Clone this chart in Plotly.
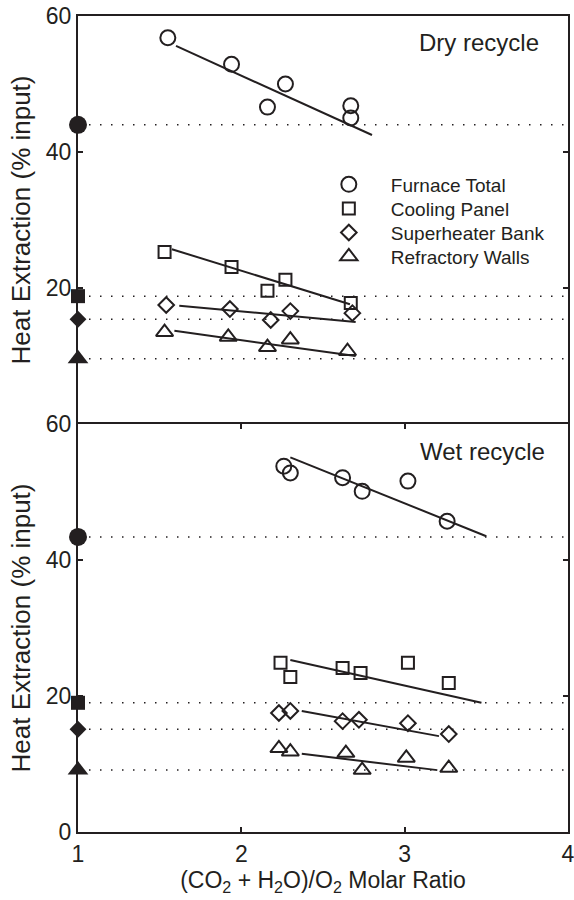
import plotly.graph_objects as go
from plotly.subplots import make_subplots

# series names and symbols
names = ["Furnace Total", "Cooling Panel", "Superheater Bank", "Refractory Walls"]
open_symbols = ["circle-open", "square-open", "diamond-open", "triangle-up-open"]
solid_symbols = ["circle", "square", "diamond", "triangle-up"]
open_sizes = [15, 12, 12, 15]
solid_sizes = [18, 14, 13, 18]

# Dry recycle measurements
dry_x = [
    [1.55, 1.94, 2.16, 2.27, 2.67, 2.67],
    [1.53, 1.94, 2.16, 2.27, 2.67],
    [1.54, 1.93, 2.18, 2.30, 2.68],
    [1.53, 1.92, 2.16, 2.30, 2.65],
]
dry_y = [
    [56.8, 52.9, 46.6, 50.0, 46.8, 45.0],
    [25.3, 23.1, 19.6, 21.2, 17.8],
    [17.5, 16.9, 15.3, 16.6, 16.3],
    [13.5, 12.8, 11.3, 12.4, 10.7],
]
dry_fit_x = [[1.60, 2.80], [1.575, 2.665], [1.62, 2.70], [1.59, 2.70]]
dry_fit_y = [[55.6, 42.5], [25.7, 17.6], [17.4, 15.0], [13.7, 10.0]]
dry_base = [44.0, 18.8, 15.4, 9.6]

# Wet recycle measurements
wet_x = [
    [2.26, 2.30, 2.62, 2.74, 3.02, 3.26],
    [2.24, 2.30, 2.62, 2.73, 3.02, 3.27],
    [2.23, 2.30, 2.62, 2.72, 3.02, 3.27],
    [2.23, 2.30, 2.64, 2.74, 3.01, 3.27],
]
wet_y = [
    [53.8, 52.8, 52.1, 50.1, 51.6, 45.7],
    [24.9, 22.8, 24.1, 23.4, 24.9, 21.9],
    [17.5, 17.8, 16.3, 16.5, 16.0, 14.4],
    [12.3, 11.8, 11.6, 9.1, 10.9, 9.4],
]
wet_fit_x = [[2.30, 3.50], [2.30, 3.47], [2.37, 3.21], [2.37, 3.20]]
wet_fit_y = [[55.1, 43.5], [25.3, 19.0], [17.8, 14.1], [11.5, 9.1]]
wet_base = [43.4, 19.0, 15.1, 9.1]

base_x = [1, 4]
ink = "#231f20"
font_family = "Arial, Liberation Sans, sans-serif"
legend_ids = ["legend", "legend2", "legend3", "legend4"]
legend_rows = [0.7935, 0.764, 0.7345, 0.7052]

fig = make_subplots(rows=2, cols=1, shared_xaxes=True, vertical_spacing=0)

panels = [(1, dry_x, dry_y, dry_fit_x, dry_fit_y, dry_base),
          (2, wet_x, wet_y, wet_fit_x, wet_fit_y, wet_base)]

for row, xs, ys, fxs, fys, bases in panels:
    for i in range(4):
        # dotted reference (air-fired) level
        fig.add_trace(go.Scatter(x=base_x, y=[bases[i]] * 2, mode="lines",
                                 line=dict(color=ink, width=1.5, dash="1.5px,9.5px"),
                                 showlegend=False, hoverinfo="skip"), row=row, col=1)
        # fit line
        fig.add_trace(go.Scatter(x=fxs[i], y=fys[i], mode="lines",
                                 line=dict(color=ink, width=2),
                                 showlegend=False, hoverinfo="skip"), row=row, col=1)
        # measured points
        fig.add_trace(go.Scatter(x=xs[i], y=ys[i], mode="markers", name=names[i],
                                 legend=legend_ids[i],
                                 marker=dict(symbol=open_symbols[i], size=open_sizes[i],
                                             color=ink, line=dict(width=2, color=ink)),
                                 showlegend=(row == 1)), row=row, col=1)
        # filled marker at ratio 1 (air)
        fig.add_trace(go.Scatter(x=[1], y=[bases[i]], mode="markers", cliponaxis=False,
                                 marker=dict(symbol=solid_symbols[i], size=solid_sizes[i],
                                             color=ink, line=dict(width=0)),
                                 showlegend=False), row=row, col=1)

axis_common = dict(showline=True, linecolor=ink, linewidth=2, mirror="ticks",
                   ticks="inside", ticklen=5, tickwidth=1.5, tickcolor=ink,
                   showgrid=False, zeroline=False, automargin=False,
                   ticklabeloverflow="allow",
                   tickfont=dict(size=23, color=ink, family=font_family))

fig.update_xaxes(range=[1, 4], tickvals=[1, 2, 3, 4], **axis_common)
fig.update_xaxes(ticks="", showticklabels=False, mirror=False, side="top", row=1, col=1)
fig.update_xaxes(title=dict(text="(CO<sub>2</sub> + H<sub>2</sub>O)/O<sub>2</sub> Molar Ratio",
                            font=dict(size=23, color=ink, family=font_family), standoff=6),
                 row=2, col=1)

# trailing non-breaking spaces nudge the rotated title a bit lower, as in the original
ytitle = dict(text="Heat Extraction (% input)\u00a0\u00a0\u00a0",
              font=dict(size=26, color=ink, family=font_family), standoff=8)
fig.update_yaxes(range=[0, 60], **axis_common)
fig.update_yaxes(tickvals=[20, 40, 60], title=ytitle, row=1, col=1)
fig.update_yaxes(tickvals=[0, 20, 40, 60], title=ytitle, row=2, col=1)

fig.add_annotation(text="Dry recycle", xref="x domain", yref="y domain", x=0.945, y=0.935,
                   xanchor="right", yanchor="middle", showarrow=False,
                   font=dict(size=24, color=ink, family=font_family))
fig.add_annotation(text="Wet recycle", xref="x2 domain", yref="y2 domain", x=0.958, y=0.933,
                   xanchor="right", yanchor="middle", showarrow=False,
                   font=dict(size=24, color=ink, family=font_family))

legend_style = dict(x=0.467, xanchor="left", yanchor="middle",
                    bgcolor="rgba(0,0,0,0)", itemwidth=74,
                    font=dict(size=19, color=ink, family=font_family))
fig.update_layout(
    width=574, height=900,
    margin=dict(l=78, r=6, t=16, b=68),
    plot_bgcolor="white", paper_bgcolor="white",
    font=dict(family=font_family, color=ink),
    legend=dict(y=legend_rows[0], **legend_style),
    legend2=dict(y=legend_rows[1], **legend_style),
    legend3=dict(y=legend_rows[2], **legend_style),
    legend4=dict(y=legend_rows[3], **legend_style),
)

# drop the default 8px page margin so the figure fills the window exactly
fig.write_html("out.html", config={"displayModeBar": False},
               post_script="document.body.style.margin='0';")
